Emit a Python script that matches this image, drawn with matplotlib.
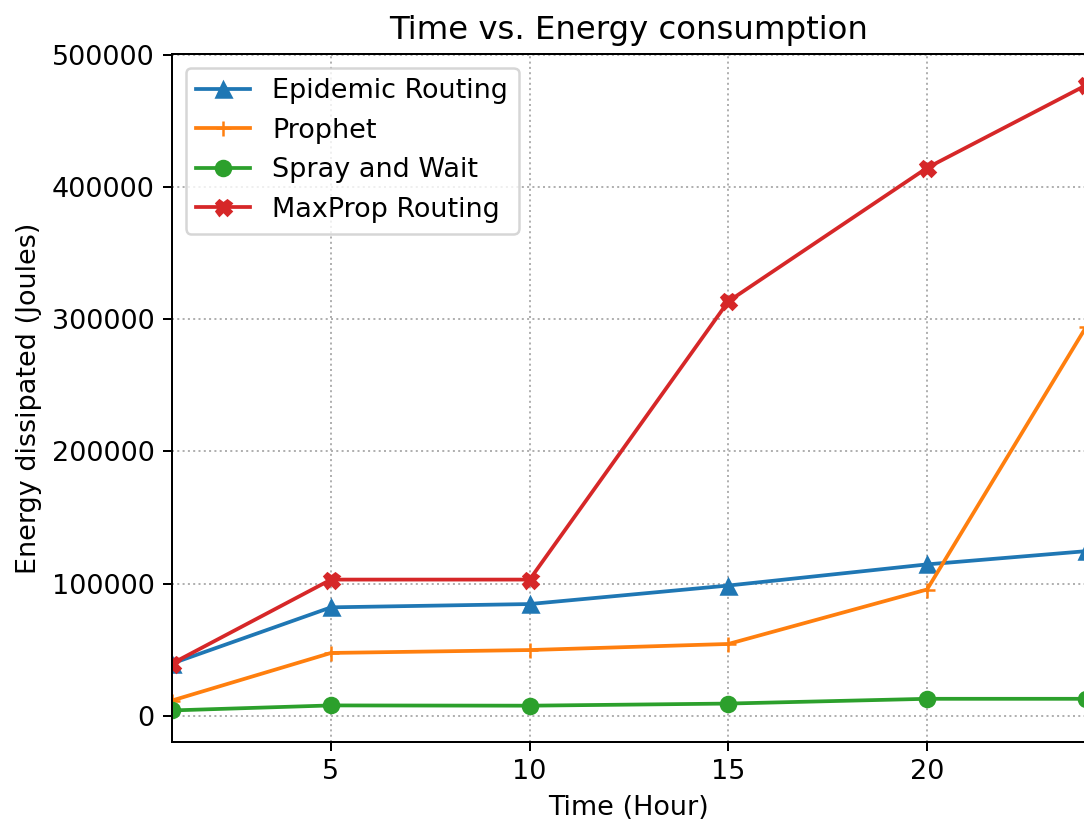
import matplotlib
matplotlib.use("Agg")
import matplotlib.pyplot as plt

plt.rcParams['font.size'] = 10.8

# time in hours
hours = [1, 5, 10, 15, 20, 24]

# energy dissipated (Joules)
epidemic = [39500, 82000, 84500, 98500, 114500, 124500]
prophet = [11500, 47500, 49700, 54300, 95500, 294000]
spray_wait = [4000, 7800, 7600, 9200, 12800, 12800]
maxprop = [39500, 103000, 103000, 313500, 414500, 477000]

fig = plt.figure(figsize=(1084 / 180, 822 / 180), dpi=180)
# right edge of the axes sits just past the figure, as in the cropped original
ax = fig.add_axes([172 / 1084, 80.3 / 822, 914 / 1084, 687.7 / 822])

ax.plot(hours, epidemic, marker='^', color='tab:blue', label='Epidemic Routing')
ax.plot(hours, prophet, marker='+', color='tab:orange', label='Prophet')
ax.plot(hours, spray_wait, marker='o', color='tab:green', label='Spray and Wait')
ax.plot(hours, maxprop, marker='X', color='tab:red', label='MaxProp Routing')

ax.set_xlim(hours[0], hours[-1])
ax.set_xticks([5, 10, 15, 20])
ax.set_xlabel('Time (Hour)')
ax.set_ylabel('Energy dissipated (Joules)')
ax.set_title('Time vs. Energy consumption')
ax.grid(True, linestyle=':', color='#b0b0b0', linewidth=0.8)
ax.legend(loc='upper left')

fig.savefig('out.png', dpi=180)
